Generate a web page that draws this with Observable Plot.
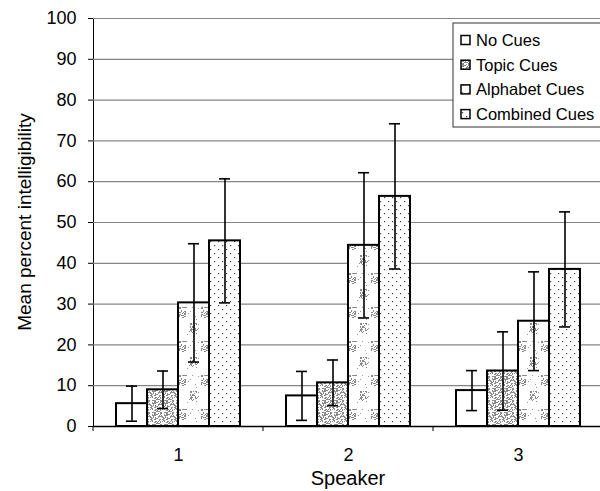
<!DOCTYPE html>
<html>
<head>
<meta charset="utf-8">
<script src="https://cdn.jsdelivr.net/npm/d3@7"></script>
<script src="https://cdn.jsdelivr.net/npm/@observablehq/plot@0.6"></script>
<style>
  html, body { margin: 0; padding: 0; background: white; }
  #chart { position: relative; width: 600px; height: 491px; overflow: hidden; }
</style>
</head>
<body>
<div id="chart"></div>
<script>
// ---- data ----
const speakers = [1, 2, 3];
const cues = ["No Cues", "Topic Cues", "Alphabet Cues", "Combined Cues"];
const noCues = [5.6, 7.5, 8.8];
const topicCues = [9.0, 10.7, 13.6];
const alphabetCues = [30.3, 44.4, 25.8];
const combinedCues = [45.5, 56.4, 38.5];
const noCuesErr = [4.3, 6.0, 4.9];
const topicCuesErr = [4.6, 5.6, 9.6];
const alphabetCuesErr = [14.5, 17.8, 12.1];
const combinedCuesErr = [15.2, 17.8, 14.1];
const yTicks = [0, 10, 20, 30, 40, 50, 60, 70, 80, 90, 100];
const yTitle = "Mean percent intelligibility";
const xTitle = "Speaker";

const meanSeries = [noCues, topicCues, alphabetCues, combinedCues];
const errSeries = [noCuesErr, topicCuesErr, alphabetCuesErr, combinedCuesErr];
const data = speakers.flatMap((s, i) => cues.map((c, j) => ({
  speaker: s, cue: c, mean: meanSeries[j][i], err: errSeries[j][i]
})));
const fills = ["white", "url(#p-topic)", "url(#p-alpha)", "url(#p-comb)"];

const plot = Plot.plot({
  width: 600,
  height: 491,
  marginLeft: 92,
  marginRight: 0,
  marginTop: 18,
  marginBottom: 65,
  style: {fontFamily: "'Liberation Sans', Arial, sans-serif", fontSize: "18px", background: "white", color: "black", overflow: "visible"},
  fx: {domain: speakers, range: [92, 604], paddingInner: 0, paddingOuter: 0, axis: "bottom", tickSize: 0, tickPadding: 22, label: null},
  x: {domain: cues, paddingInner: 0, paddingOuter: 0.68, axis: null},
  y: {domain: [0, 100], ticks: yTicks, tickSize: 5, tickPadding: 12, label: null, line: true},
  color: {type: "ordinal", domain: cues, range: fills},
  marks: [
    Plot.ruleY(yTicks.filter(d => d > 0), {stroke: "#858585", strokeWidth: 1.2}),
    Plot.barY(data, {fx: "speaker", x: "cue", y: "mean", fill: "cue", stroke: "black", strokeWidth: 2}),
    Plot.ruleX(data, {fx: "speaker", x: "cue", y1: d => d.mean - d.err, y2: d => d.mean + d.err, stroke: "black", strokeWidth: 1.6}),
    Plot.tickY(data, {fx: "speaker", x: "cue", y: d => d.mean + d.err, insetLeft: 10, insetRight: 10, stroke: "black", strokeWidth: 1.6}),
    Plot.tickY(data, {fx: "speaker", x: "cue", y: d => d.mean - d.err, insetLeft: 10, insetRight: 10, stroke: "black", strokeWidth: 1.6}),
    Plot.ruleY([0], {stroke: "black", strokeWidth: 1.5})
  ]
});

const svg = d3.select(plot);
// patterns
const defs = svg.insert("defs", ":first-child");
function rnd(seed) { let s = seed; return () => { s = (s * 9301 + 49297) % 233280; return s / 233280; }; }
// topic: dense gray stipple
{
  const p = defs.append("pattern").attr("id", "p-topic").attr("patternUnits", "userSpaceOnUse").attr("width", 12).attr("height", 12);
  p.append("rect").attr("width", 12).attr("height", 12).attr("fill", "white");
  const r = rnd(7);
  for (let i = 0; i < 12; i++) for (let j = 0; j < 12; j++) {
    if (r() < 0.4) p.append("rect").attr("x", i).attr("y", j).attr("width", 1).attr("height", 1).attr("fill", "#8c8c8c");
  }
}
// alphabet: white with gray blotches
{
  const p = defs.append("pattern").attr("id", "p-alpha").attr("patternUnits", "userSpaceOnUse").attr("width", 22).attr("height", 34);
  p.append("rect").attr("width", 22).attr("height", 34).attr("fill", "white");
  const r = rnd(13);
  const centers = [[5, 6], [16, 22]];
  for (const [cx, cy] of centers) {
    for (let k = 0; k < 40; k++) {
      const x = Math.round(cx + (r() - 0.5) * 8), y = Math.round(cy + (r() - 0.5) * 11);
      p.append("rect").attr("x", (x + 22) % 22).attr("y", (y + 34) % 34).attr("width", 1).attr("height", 1).attr("fill", "#888");
    }
  }
  for (let k = 0; k < 10; k++) {
    p.append("rect").attr("x", Math.floor(r() * 22)).attr("y", Math.floor(r() * 34)).attr("width", 1).attr("height", 1).attr("fill", "#999");
  }
}
// combined: sparse dots
{
  const p = defs.append("pattern").attr("id", "p-comb").attr("patternUnits", "userSpaceOnUse").attr("width", 8).attr("height", 8);
  p.append("rect").attr("width", 8).attr("height", 8).attr("fill", "white");
  p.append("rect").attr("x", 1).attr("y", 1).attr("width", 1.2).attr("height", 1.2).attr("fill", "#444");
  p.append("rect").attr("x", 5).attr("y", 5).attr("width", 1.2).attr("height", 1.2).attr("fill", "#444");
}

// x-axis boundary ticks
const fx = plot.scale("fx");
const bounds = speakers.map(s => fx.apply(s)).concat([fx.apply(speakers[speakers.length - 1]) + fx.bandwidth]);
const yS = plot.scale("y");
svg.append("g").selectAll("line").data(bounds).join("line")
  .attr("x1", d => d).attr("x2", d => d)
  .attr("y1", yS.apply(0)).attr("y2", yS.apply(0) + 5)
  .attr("stroke", "black").attr("stroke-width", 1);

// axis titles
svg.append("text").text(xTitle)
  .attr("x", fx.apply(2) + fx.bandwidth / 2).attr("y", 485)
  .attr("text-anchor", "middle").attr("font-size", 20);
svg.append("text").text(yTitle)
  .attr("transform", `translate(31,${(yS.apply(0) + yS.apply(100)) / 2}) rotate(-90)`)
  .attr("text-anchor", "middle").attr("font-size", 19);

// legend
const lg = svg.append("g").attr("transform", "translate(453,23)");
lg.append("rect").attr("width", 150).attr("height", 104).attr("fill", "white").attr("stroke", "#333").attr("stroke-width", 1);
cues.forEach((c, j) => {
  const cy = 17 + j * 24.7;
  lg.append("rect").attr("x", 8).attr("y", cy - 4.5).attr("width", 9).attr("height", 9)
    .attr("fill", fills[j]).attr("stroke", "black").attr("stroke-width", 1.5);
  lg.append("text").text(c).attr("x", 23).attr("y", cy).attr("dy", "0.36em")
    .attr("text-anchor", "start").attr("font-size", 16.5);
});

document.getElementById("chart").append(plot);
</script>
</body>
</html>
